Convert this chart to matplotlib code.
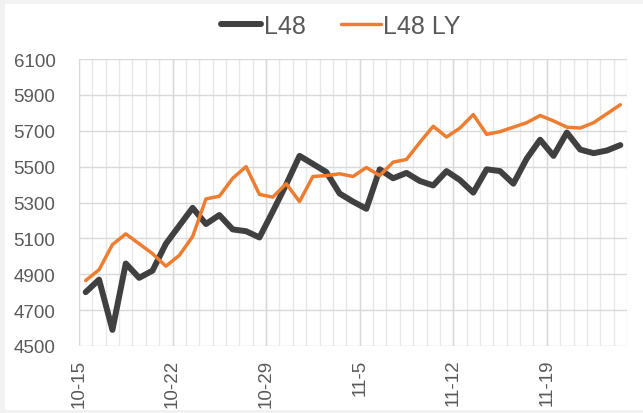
import matplotlib.pyplot as plt
import matplotlib.patches as mpatches
import numpy as np

plt.rcParams['font.family'] = ['Liberation Sans', 'DejaVu Sans']

# daily values, 10-15 .. 11-24
l48 = [4800, 4870, 4590, 4960, 4880, 4920, 5070, 5170, 5270, 5180,
       5230, 5150, 5140, 5105, 5250, 5400, 5560, 5515, 5470, 5350,
       5305, 5265, 5485, 5435, 5465, 5420, 5395, 5475, 5425, 5355,
       5485, 5475, 5405, 5545, 5650, 5560, 5690, 5595, 5575, 5590, 5620]
l48_ly = [4865, 4925, 5065, 5125, 5070, 5015, 4945, 5005, 5110, 5320,
          5335, 5435, 5500, 5345, 5330, 5405, 5305, 5445, 5450, 5460,
          5445, 5495, 5450, 5525, 5540, 5635, 5725, 5665, 5715, 5790,
          5680, 5695, 5720, 5745, 5785, 5755, 5720, 5715, 5745, 5795, 5845]
tick_labels = ['10-15', '10-22', '10-29', '11-5', '11-12', '11-19']

n = len(l48)
x = np.arange(n) + 0.5

fig = plt.figure(figsize=(6.43, 4.14), dpi=100)
fig.patch.set_facecolor('#f2f2f2')
fig.patches.append(mpatches.Rectangle((5 / 643, 0.007), 1, 1 - 5 / 414 - 0.007,
                                      transform=fig.transFigure,
                                      facecolor='white', edgecolor='none', zorder=-5))

ax = fig.add_axes([79 / 643, 1 - 347 / 414, (627 - 79) / 643, (347 - 60) / 414])
ax.set_facecolor('white')

# grid
for d in range(0, n + 1):
    ax.axvline(d, color='#e8e8e8', lw=1, zorder=1)
for d in range(0, n + 1, 7):
    ax.axvline(d, color='#d9d9d9', lw=1, zorder=1)
for v in range(4500, 6101, 200):
    ax.axhline(v, color='#d9d9d9', lw=1, zorder=1)

ax.plot(x, l48, color='#404040', lw=4.3, solid_capstyle='round',
        solid_joinstyle='round', label='L48', zorder=3)
ax.plot(x, l48_ly, color='#ED7D31', lw=2.5, solid_capstyle='round',
        solid_joinstyle='round', label='L48 LY', zorder=4)

ax.set_xlim(0, n)
ax.set_ylim(4500, 6100)
ax.set_yticks(range(4500, 6101, 200))
ax.set_xticks(range(0, n, 7))
ax.set_xticklabels(tick_labels, rotation=90)
ax.tick_params(axis='both', length=0, labelsize=13.5, colors='#595959')
ax.tick_params(axis='x', pad=9)
ax.tick_params(axis='y', pad=17)
for s in ax.spines.values():
    s.set_visible(False)

fig.legend(loc='center', bbox_to_anchor=(341 / 643, 1 - 27 / 414), ncol=2,
           frameon=False, fontsize=18, handlelength=1.6, handletextpad=0.1,
           columnspacing=1.4, labelcolor='#595959')

fig.savefig('out.png', dpi=100)
